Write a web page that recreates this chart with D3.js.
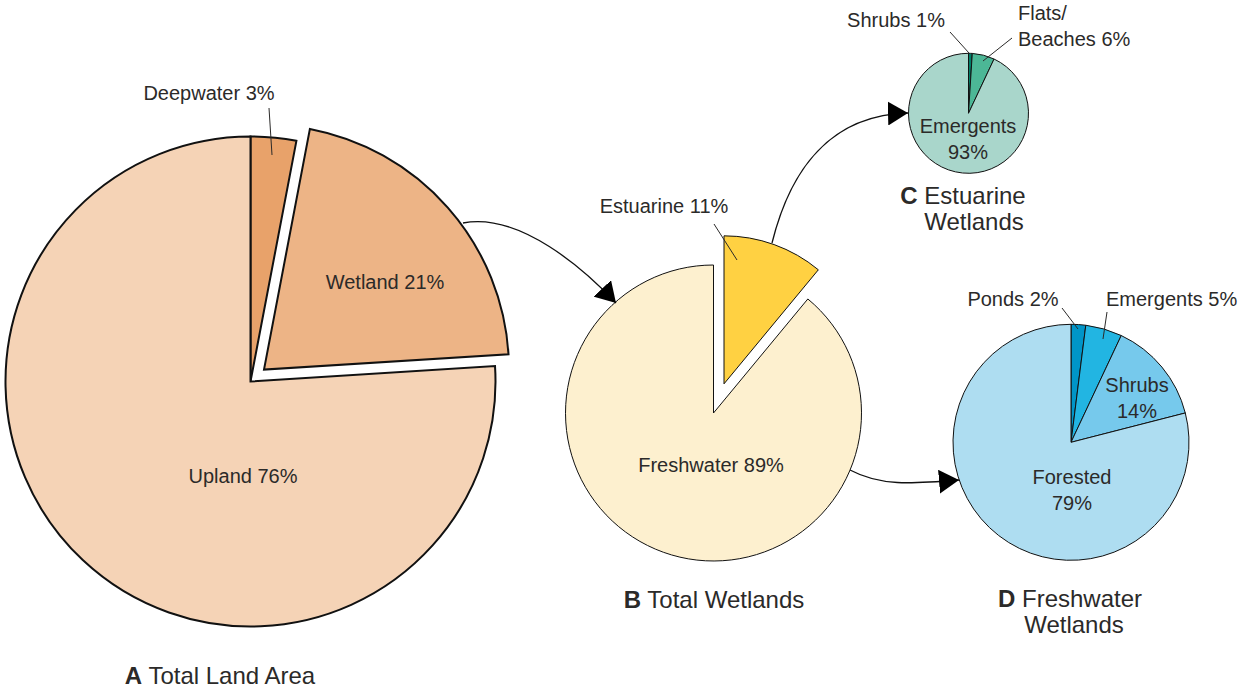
<!DOCTYPE html>
<html lang="en">
<head>
    <meta charset="UTF-8">
    <title>Wetland Pie Charts</title>
    <script src="https://cdn.jsdelivr.net/npm/d3@7"></script>
    <style>
        body {
            margin: 0;
            background: #fff;
        }
        svg {
            font-family: "Liberation Sans", Arial, sans-serif;
        }
        .label {
            font-size: 20px;
            fill: #2b2a29;
        }
        .title {
            font-size: 24px;
            fill: #2b2a29;
        }
        .leader {
            stroke: #2b2a29;
            stroke-width: 1px;
        }
        .flow {
            fill: none;
            stroke: #111;
            stroke-width: 1.3px;
        }
    </style>
</head>
<body>
<svg id="chart" width="1240" height="690"></svg>

<script>
    // Data (percent of each whole)
    const landCats = ["Deepwater", "Wetland", "Upland"];
    const landVals = [3, 21, 76];

    const wetCats = ["Estuarine", "Freshwater"];
    const wetVals = [11, 89];

    const estCats = ["Shrubs", "Flats/Beaches", "Emergents"];
    const estVals = [1, 6, 93];

    const freshCats = ["Ponds", "Emergents", "Shrubs", "Forested"];
    const freshVals = [2, 5, 14, 79];

    // Colours
    const landColors = ["#e8a26a", "#edb486", "#f5d3b6"];
    const wetColors = ["#ffd142", "#fdf0cf"];
    const estColors = ["#007f68", "#4cb796", "#a9d6cb"];
    const freshColors = ["#0095c8", "#22b5e2", "#76c9ec", "#aeddf1"];

    // Layout of each pie
    const pies = [
        {
            cats: landCats, vals: landVals, colors: landColors,
            cx: 250.5, cy: 381.5, r: 245, stroke: 2, explode: { Wetland: 18 },
            labels: {
                Deepwater: { x: 209, y: 100, leader: [269, 108, 272, 155] },
                Wetland: { x: 385, y: 289 },
                Upland: { x: 243, y: 483 }
            },
            title: { letter: "A", lines: ["Total Land Area"], x: 220, y: 684 }
        },
        {
            cats: wetCats, vals: wetVals, colors: wetColors,
            cx: 713.5, cy: 413, r: 148, stroke: 1, explode: { Estuarine: 31 },
            labels: {
                Estuarine: { x: 664, y: 213, leader: [714, 224, 737, 260] },
                Freshwater: { x: 711, y: 472 }
            },
            title: { letter: "B", lines: ["Total Wetlands"], x: 714, y: 608 }
        },
        {
            cats: estCats, vals: estVals, colors: estColors,
            cx: 968.5, cy: 113.3, r: 60, stroke: 1, explode: {},
            labels: {
                Shrubs: { x: 896, y: 27, leader: [950, 32, 969, 53] },
                "Flats/Beaches": { x: 1018, y: 20, anchor: "start", wrap: "slash", leader: [1012, 38, 983, 61] },
                Emergents: { x: 968, y: 133, wrap: "value" }
            },
            title: { letter: "C", lines: ["Estuarine", "Wetlands"], x: 963, y: 204, x2: 974 }
        },
        {
            cats: freshCats, vals: freshVals, colors: freshColors,
            cx: 1071, cy: 442.3, r: 118, stroke: 1, explode: {},
            labels: {
                Ponds: { x: 1013, y: 306, leader: [1062, 308, 1078, 329] },
                Emergents: { x: 1106, y: 306, anchor: "start", leader: [1107, 312, 1103, 339] },
                Shrubs: { x: 1137, y: 392, wrap: "value" },
                Forested: { x: 1072, y: 484, wrap: "value" }
            },
            title: { letter: "D", lines: ["Freshwater", "Wetlands"], x: 1070, y: 607, x2: 1074 }
        }
    ];

    // Flow arrows between pies (start, two controls, tip)
    const flows = [
        [[463, 223], [520, 212], [585, 270], [616, 303]],
        [[772, 243], [790, 170], [830, 115], [908, 113]],
        [[850, 470], [880, 486], [910, 484], [959, 480]]
    ];

    const svg = d3.select("#chart");

    svg.append("defs").append("marker")
        .attr("id", "head")
        .attr("viewBox", "0 0 20 24")
        .attr("refX", 20)
        .attr("refY", 12)
        .attr("markerWidth", 20)
        .attr("markerHeight", 24)
        .attr("markerUnits", "userSpaceOnUse")
        .attr("orient", "auto")
        .append("path")
        .attr("d", "M0,0L20,12L0,24Z")
        .attr("fill", "#000");

    const pie = d3.pie().sort(null);

    pies.forEach(p => {
        const arcs = pie(p.vals);
        const arc = d3.arc().innerRadius(0).outerRadius(p.r);
        const g = svg.append("g").attr("transform", `translate(${p.cx},${p.cy})`);

        g.selectAll("path")
            .data(arcs)
            .enter()
            .append("path")
            .attr("d", arc)
            .attr("transform", d => {
                const off = p.explode[p.cats[d.index]] || 0;
                const mid = (d.startAngle + d.endAngle) / 2;
                return `translate(${off * Math.sin(mid)},${-off * Math.cos(mid)})`;
            })
            .attr("fill", d => p.colors[d.index])
            .attr("stroke", "#111")
            .attr("stroke-width", p.stroke)
            .attr("stroke-linejoin", "miter");

        // slice labels
        p.cats.forEach((name, i) => {
            const lab = p.labels[name];
            const pct = p.vals[i] + "%";
            let lines = [name + " " + pct];
            if (lab.wrap === "value") lines = [name, pct];
            if (lab.wrap === "slash") {
                const k = name.indexOf("/") + 1;
                lines = [name.slice(0, k), name.slice(k) + " " + pct];
            }
            const t = svg.append("text")
                .attr("class", "label")
                .attr("text-anchor", lab.anchor || "middle");
            lines.forEach((ln, j) => {
                t.append("tspan")
                    .attr("x", lab.x)
                    .attr("y", lab.y + j * 25.5)
                    .text(ln);
            });
            if (lab.leader) {
                svg.append("line")
                    .attr("class", "leader")
                    .attr("x1", lab.leader[0]).attr("y1", lab.leader[1])
                    .attr("x2", lab.leader[2]).attr("y2", lab.leader[3]);
            }
        });

        // pie title
        const tt = p.title;
        const t1 = svg.append("text")
            .attr("class", "title")
            .attr("text-anchor", "middle")
            .attr("x", tt.x)
            .attr("y", tt.y);
        t1.append("tspan").attr("font-weight", "bold").text(tt.letter);
        t1.append("tspan").text(" " + tt.lines[0]);
        if (tt.lines.length > 1) {
            svg.append("text")
                .attr("class", "title")
                .attr("text-anchor", "middle")
                .attr("x", tt.x2)
                .attr("y", tt.y + 26)
                .text(tt.lines[1]);
        }
    });

    svg.selectAll(".flow")
        .data(flows)
        .enter()
        .append("path")
        .attr("class", "flow")
        .attr("d", f => {
            const path = d3.path();
            path.moveTo(f[0][0], f[0][1]);
            path.bezierCurveTo(f[1][0], f[1][1], f[2][0], f[2][1], f[3][0], f[3][1]);
            return path.toString();
        })
        .attr("marker-end", "url(#head)");
</script>
</body>
</html>
